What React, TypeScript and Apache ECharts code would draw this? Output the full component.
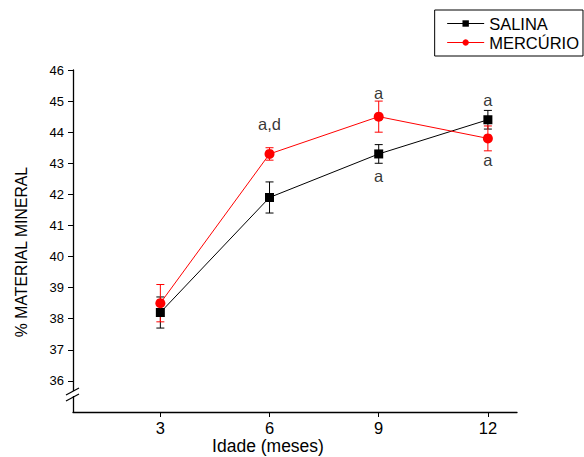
import React, { useEffect, useRef } from 'react';
import * as echarts from 'echarts';

const ages = [3, 6, 9, 12];
const salina = [38.2, 41.9, 43.3, 44.4];
const salinaErr = [0.5, 0.5, 0.3, 0.3];
const mercurio = [38.5, 43.3, 44.5, 43.8];
const mercurioErr = [0.6, 0.2, 0.5, 0.4];
const yTicks = [36, 37, 38, 39, 40, 41, 42, 43, 44, 45, 46];
// letras de significancia: [idade, posicao y, texto]
const notes: [number, number, string][] = [
    [6, 44.26, 'a,d'],
    [9, 45.26, 'a'],
    [9, 42.6, 'a'],
    [12, 45.03, 'a'],
    [12, 43.1, 'a'],
];

const font = 'Liberation Sans, Arial, sans-serif';

const errorSeries = (vals: number[], errs: number[], color: string) => ({
    type: 'custom',
    silent: true,
    z: 1,
    data: ages.map((x, i) => [x, vals[i] - errs[i], vals[i] + errs[i]]),
    renderItem: (params: any, api: any) => {
        const lo = api.coord([api.value(0), api.value(1)]);
        const hi = api.coord([api.value(0), api.value(2)]);
        const w = 4;
        const style = { stroke: color, lineWidth: 1 };
        return {
            type: 'group',
            children: [
                { type: 'line', shape: { x1: lo[0], y1: lo[1], x2: hi[0], y2: hi[1] }, style },
                { type: 'line', shape: { x1: lo[0] - w, y1: lo[1], x2: lo[0] + w, y2: lo[1] }, style },
                { type: 'line', shape: { x1: hi[0] - w, y1: hi[1], x2: hi[0] + w, y2: hi[1] }, style },
            ],
        };
    },
});

const App = () => {
    const chartRef = useRef<HTMLDivElement>(null);

    useEffect(() => {
        if (!chartRef.current) return;
        document.body.style.margin = '0';
        const myChart = echarts.init(chartRef.current, null, { renderer: 'svg' });

        const option = {
            animation: false,
            backgroundColor: '#fff',
            textStyle: { fontFamily: font },
            grid: { left: 73, right: 67, top: 70, bottom: 45 },
            legend: {
                orient: 'vertical',
                right: 1,
                top: 10,
                itemWidth: 37,
                itemHeight: 8,
                itemGap: 2,
                padding: [5, 4, 5, 12],
                borderColor: '#000',
                borderWidth: 1,
                borderRadius: 0,
                lineStyle: { width: 1 },
                textStyle: { fontSize: 16.5, color: '#000', fontFamily: font },
                data: ['SALINA', 'MERCÚRIO'],
            },
            xAxis: {
                type: 'value',
                min: 0.6,
                max: 12.8,
                axisLine: { lineStyle: { color: '#000', width: 1.3 } },
                axisTick: { show: true, length: 5, customValues: ages, lineStyle: { color: '#000' } },
                axisLabel: { customValues: ages, fontSize: 16.5, color: '#000', margin: 7, fontFamily: font },
                splitLine: { show: false },
            },
            yAxis: {
                type: 'value',
                min: 35,
                max: 46,
                interval: 1,
                axisLine: { show: true, lineStyle: { color: '#000', width: 1.3 } },
                axisTick: { show: true, length: 5, customValues: yTicks, lineStyle: { color: '#000' } },
                axisLabel: { customValues: yTicks, fontSize: 13, color: '#000', margin: 9, fontFamily: font },
                splitLine: { show: false },
            },
            graphic: [
                {
                    type: 'text',
                    x: 268,
                    y: 446,
                    style: {
                        text: 'Idade (meses)',
                        fontSize: 17.5,
                        fontFamily: font,
                        fill: '#000',
                        align: 'center',
                        verticalAlign: 'middle',
                    },
                },
                {
                    type: 'text',
                    x: 21,
                    y: 252,
                    rotation: Math.PI / 2,
                    style: {
                        text: '% MATERIAL MINERAL',
                        fontSize: 15.8,
                        fontFamily: font,
                        fill: '#000',
                        align: 'center',
                        verticalAlign: 'middle',
                    },
                },
                { type: 'rect', shape: { x: 68, y: 391, width: 10, height: 5 }, style: { fill: '#fff' }, z: 100 },
                { type: 'line', shape: { x1: 66, y1: 395, x2: 79, y2: 388 }, style: { stroke: '#000', lineWidth: 1.2 }, z: 101 },
                { type: 'line', shape: { x1: 66, y1: 401, x2: 79, y2: 394 }, style: { stroke: '#000', lineWidth: 1.2 }, z: 101 },
            ],
            series: [
                errorSeries(salina, salinaErr, '#000'),
                errorSeries(mercurio, mercurioErr, '#ff0000'),
                {
                    name: 'SALINA',
                    type: 'line',
                    data: ages.map((x, i) => [x, salina[i]]),
                    symbol: 'rect',
                    symbolSize: 9,
                    itemStyle: { color: '#000' },
                    lineStyle: { color: '#000', width: 1 },
                    z: 3,
                },
                {
                    name: 'MERCÚRIO',
                    type: 'line',
                    data: ages.map((x, i) => [x, mercurio[i]]),
                    symbol: 'circle',
                    symbolSize: 10,
                    itemStyle: { color: '#ff0000' },
                    lineStyle: { color: '#ff0000', width: 1 },
                    z: 3,
                },
                {
                    type: 'scatter',
                    silent: true,
                    symbolSize: 0,
                    data: notes.map((n) => ({ value: [n[0], n[1]], name: n[2] })),
                    label: {
                        show: true,
                        position: 'inside',
                        formatter: (p: any) => p.name,
                        fontSize: 16.5,
                        color: '#000',
                        fontFamily: font,
                    },
                },
            ],
        };

        myChart.setOption(option);

        return () => {
            myChart.dispose();
        };
    }, []);

    return <div ref={chartRef} style={{ width: '584px', height: '457px' }} />;
};

export default App;
